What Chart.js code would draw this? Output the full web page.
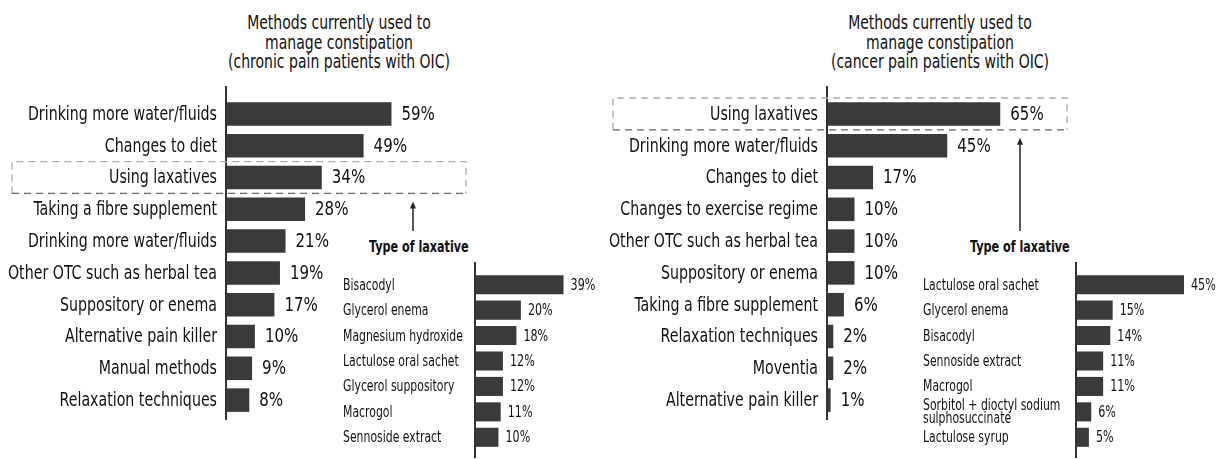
<!DOCTYPE html>
<html>
<head>
<meta charset="utf-8">
<script src="https://cdn.jsdelivr.net/npm/chart.js@4.4.1/dist/chart.umd.min.js"></script>
<style>
  body { margin: 0; background: #fff; width: 1222px; height: 459px; position: relative; overflow: hidden;
         font-family: "DejaVu Sans Condensed", "Liberation Sans Narrow", sans-serif; color: #111; }
  canvas { position: absolute; }
  .title { position: absolute; width: 300px; text-align: center; font-size: 19px; line-height: 19.5px;
           white-space: nowrap; transform: scaleX(0.82); transform-origin: 50% 0; }
  .sub { position: absolute; font-size: 15px; font-weight: bold; line-height: 20px; white-space: nowrap;
         transform: scaleX(0.83); transform-origin: 0 0; }
</style>
</head>
<body>
<div class="title" style="left:189px; top:13px;">Methods currently used to<br>manage constipation<br>(chronic pain patients with OIC)</div>
<div class="title" style="left:790px; top:13px;">Methods currently used to<br>manage constipation<br>(cancer pain patients with OIC)</div>
<div class="sub" style="left:369px; top:237px;">Type of laxative</div>
<div class="sub" style="left:970px; top:237px;">Type of laxative</div>

<canvas id="chronic" width="600" height="459" style="left:0; top:0;"></canvas>
<canvas id="cancer" width="622" height="459" style="left:600px; top:0;"></canvas>
<canvas id="chronicLax" width="300" height="239" style="left:330px; top:220px;"></canvas>
<canvas id="cancerLax" width="302" height="239" style="left:920px; top:220px;"></canvas>

<script>
const FONT = '"DejaVu Sans Condensed", "Liberation Sans Narrow", sans-serif';
const BAR = "#3a3a3a";

const chronicLabels = ["Drinking more water/fluids", "Changes to diet", "Using laxatives",
  "Taking a fibre supplement", "Drinking more water/fluids", "Other OTC such as herbal tea",
  "Suppository or enema", "Alternative pain killer", "Manual methods", "Relaxation techniques"];
const chronicValues = [59, 49, 34, 28, 21, 19, 17, 10, 9, 8];

const chronicLaxLabels = ["Bisacodyl", "Glycerol enema", "Magnesium hydroxide",
  "Lactulose oral sachet", "Glycerol suppository", "Macrogol", "Sennoside extract"];
const chronicLaxValues = [39, 20, 18, 12, 12, 11, 10];

const cancerLabels = ["Using laxatives", "Drinking more water/fluids", "Changes to diet",
  "Changes to exercise regime", "Other OTC such as herbal tea", "Suppository or enema",
  "Taking a fibre supplement", "Relaxation techniques", "Moventia", "Alternative pain killer"];
const cancerValues = [65, 45, 17, 10, 10, 10, 6, 2, 2, 1];

const cancerLaxLabels = ["Lactulose oral sachet", "Glycerol enema", "Bisacodyl",
  "Sennoside extract", "Macrogol", ["Sorbitol + dioctyl sodium", "sulphosuccinate"], "Lactulose syrup"];
const cancerLaxValues = [45, 15, 14, 11, 11, 6, 5];

// condensed text helper (the source uses a narrow typeface)
function squeezeText(ctx, text, x, y, sx) {
  ctx.save();
  ctx.translate(x, y);
  ctx.scale(sx, 1);
  ctx.fillText(text, 0, 0);
  ctx.restore();
}

// category labels, percent labels, axis line, dashed box + arrow
const extras = {
  id: "extras",
  afterDatasetsDraw(chart, args, opts) {
    const ctx = chart.ctx;
    const area = chart.chartArea;
    const ys = chart.scales.y;
    ctx.save();
    ctx.strokeStyle = "#333";
    ctx.lineWidth = 2;
    ctx.beginPath();
    ctx.moveTo(area.left - 1, area.top - opts.axisUp);
    ctx.lineTo(area.left - 1, area.bottom + opts.axisDown);
    ctx.stroke();

    ctx.fillStyle = "#111";
    ctx.textBaseline = "middle";

    // category labels
    ctx.font = opts.labelSize + "px " + FONT;
    ctx.textAlign = opts.labelAlign;
    const lx = opts.labelAlign === "right" ? area.left - opts.labelPad : ys.left;
    chart.data.labels.forEach((lbl, i) => {
      const lines = Array.isArray(lbl) ? lbl : [lbl];
      const cy = ys.getPixelForValue(i);
      lines.forEach((ln, k) => {
        const dy = (k - (lines.length - 1) / 2) * opts.lineGap;
        squeezeText(ctx, ln, lx, cy + dy + 1, opts.squeeze);
      });
    });

    // values
    ctx.font = opts.valueSize + "px " + FONT;
    ctx.textAlign = "left";
    const meta = chart.getDatasetMeta(0);
    meta.data.forEach((bar, i) => {
      squeezeText(ctx, chart.data.datasets[0].data[i] + "%", bar.x + opts.gap, bar.y + 1, opts.valueSqueeze);
    });

    if (opts.box) {
      const idx = opts.box.index;
      const half = (ys.getPixelForValue(1) - ys.getPixelForValue(0)) / 2;
      const top = ys.getPixelForValue(idx) - half;
      const bottom = ys.getPixelForValue(idx) + half;
      ctx.setLineDash([7, 5]);
      ctx.lineWidth = 1.3;
      ctx.strokeStyle = "#aaa";
      ctx.beginPath();
      ctx.moveTo(opts.box.x0, bottom);
      ctx.lineTo(opts.box.x0, top);
      ctx.lineTo(opts.box.x1, top);
      ctx.lineTo(opts.box.x1, bottom);
      ctx.stroke();
      ctx.strokeStyle = "#666";
      ctx.beginPath();
      ctx.moveTo(opts.box.x0, bottom);
      ctx.lineTo(opts.box.x1, bottom);
      ctx.stroke();
      ctx.setLineDash([]);

      const ax = opts.box.arrowX;
      const aTop = bottom + 8;
      ctx.strokeStyle = "#222";
      ctx.lineWidth = 1.5;
      ctx.beginPath();
      ctx.moveTo(ax, 231);
      ctx.lineTo(ax, aTop + 3);
      ctx.stroke();
      ctx.fillStyle = "#222";
      ctx.beginPath();
      ctx.moveTo(ax, aTop);
      ctx.lineTo(ax - 3, aTop + 7);
      ctx.lineTo(ax + 3, aTop + 7);
      ctx.closePath();
      ctx.fill();
    }
    ctx.restore();
  }
};

function makeChart(id, labels, values, cfg) {
  return new Chart(document.getElementById(id), {
    type: "bar",
    data: {
      labels: labels,
      datasets: [{
        data: values,
        backgroundColor: BAR,
        borderWidth: 0,
        barPercentage: cfg.barPct,
        categoryPercentage: 1
      }]
    },
    options: {
      indexAxis: "y",
      responsive: false,
      animation: false,
      layout: { padding: cfg.padding },
      scales: {
        x: { display: false, min: 0, max: cfg.max },
        y: {
          grid: { display: false, drawTicks: false },
          border: { display: false },
          ticks: { display: false },
          afterFit(scale) { scale.width = cfg.axisWidth; }
        }
      },
      plugins: {
        legend: { display: false },
        tooltip: { enabled: false },
        extras: {
          axisUp: cfg.axisUp, axisDown: cfg.axisDown,
          labelSize: cfg.fontSize, labelAlign: cfg.labelAlign, labelPad: cfg.labelPad,
          lineGap: cfg.lineGap || 0, squeeze: cfg.squeeze, valueSqueeze: cfg.valueSqueeze,
          valueSize: cfg.valueSize, gap: cfg.gap, box: cfg.box
        }
      }
    },
    plugins: [extras]
  });
}

makeChart("chronic", chronicLabels, chronicValues, {
  max: 80, barPct: 0.74, axisWidth: 227, labelPad: 10, labelAlign: "right", fontSize: 19,
  squeeze: 0.83, valueSize: 19, valueSqueeze: 0.88, gap: 10, axisUp: 12, axisDown: 4,
  padding: { left: 0, top: 98, bottom: 43, right: 150 },
  box: { index: 2, x0: 12, x1: 466, arrowX: 413 }
});

makeChart("cancer", cancerLabels, cancerValues, {
  max: 80, barPct: 0.74, axisWidth: 228, labelPad: 10, labelAlign: "right", fontSize: 19,
  squeeze: 0.83, valueSize: 19, valueSqueeze: 0.88, gap: 10, axisUp: 12, axisDown: 4,
  padding: { left: 0, top: 98, bottom: 43, right: 182 },
  box: { index: 0, x0: 13, x1: 467, arrowX: 420 }
});

makeChart("chronicLax", chronicLaxLabels, chronicLaxValues, {
  max: 45, barPct: 0.75, axisWidth: 133, labelAlign: "left", fontSize: 15.5,
  squeeze: 0.78, valueSize: 15.5, valueSqueeze: 0.8, gap: 7, axisUp: 10, axisDown: 8,
  padding: { left: 13, top: 52, bottom: 9, right: 53 }
});

makeChart("cancerLax", cancerLaxLabels, cancerLaxValues, {
  max: 45, barPct: 0.75, axisWidth: 154, labelAlign: "left", fontSize: 15.5, lineGap: 13,
  squeeze: 0.78, valueSize: 15.5, valueSqueeze: 0.8, gap: 7, axisUp: 10, axisDown: 8,
  padding: { left: 3, top: 52, bottom: 9, right: 38 }
});
</script>
</body>
</html>
